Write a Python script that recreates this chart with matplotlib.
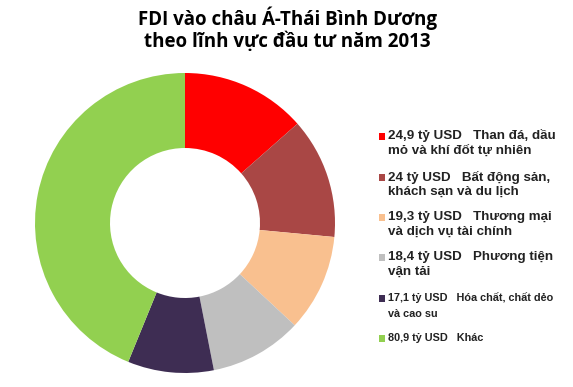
import matplotlib
matplotlib.use('Agg')
import matplotlib.pyplot as plt
from matplotlib.patches import Rectangle

W, H = 573, 387

# data
values = [24.9, 24, 19.3, 18.4, 17.1, 80.9]
amounts = ['24,9 tỷ USD', '24 tỷ USD', '19,3 tỷ USD', '18,4 tỷ USD', '17,1 tỷ USD', '80,9 tỷ USD']
sectors = ['Than đá, dầu\nmỏ và khí đốt tự nhiên',
           'Bất động sản,\nkhách sạn và du lịch',
           'Thương mại\nvà dịch vụ tài chính',
           'Phương tiện\nvận tải',
           'Hóa chất, chất dẻo\nvà cao su',
           'Khác']
colors = ['#FF0000', '#A94745', '#F9C08F', '#BFBFBF', '#3E2D53', '#92D050']

fig = plt.figure(figsize=(W / 100, H / 100), dpi=100)
fig.patch.set_facecolor('white')

# donut, center ~ (185, 223) px, outer radius 150 px
cx, cy, r = 185, 223, 150
ax = fig.add_axes([(cx - r) / W, (H - cy - r) / H, 2 * r / W, 2 * r / H])
ax.pie(values, colors=colors, startangle=90, counterclock=False,
       radius=1, wedgeprops=dict(width=0.5, edgecolor='none'))
ax.set_xlim(-1, 1)
ax.set_ylim(-1, 1)
ax.set_aspect('equal')
ax.axis('off')

fig.text(287 / W, 1 - 18 / H, 'FDI vào châu Á-Thái Bình Dương',
         ha='center', va='center', fontsize=13.5, fontweight='bold', family='Open Sans')
fig.text(287 / W, 1 - 42 / H, 'theo lĩnh vực đầu tư năm 2013',
         ha='center', va='center', fontsize=13.5, fontweight='bold', family='Open Sans')

# legend drawn by hand
line1_y = [136, 177, 217, 257, 298, 338]
line_gap = [15, 15, 15, 15, 16, 0]
sizes = [9.6, 9.6, 9.6, 9.6, 7.8, 7.8]
for i in range(len(values)):
    y = line1_y[i]
    fig.patches.append(Rectangle((379 / W, 1 - (y + 3.5) / H), 6 / W, 7 / H,
                                 transform=fig.transFigure, facecolor=colors[i],
                                 edgecolor='none'))
    first, *rest = sectors[i].split('\n')
    fig.text(388 / W, 1 - y / H, amounts[i] + '   ' + first, ha='left', va='center',
             fontsize=sizes[i], fontweight='bold', family='Liberation Sans', color='#222222')
    if rest:
        fig.text(388 / W, 1 - (y + line_gap[i]) / H, rest[0], ha='left', va='center',
                 fontsize=sizes[i], fontweight='bold', family='Liberation Sans', color='#222222')

fig.savefig('out.png', dpi=100)
